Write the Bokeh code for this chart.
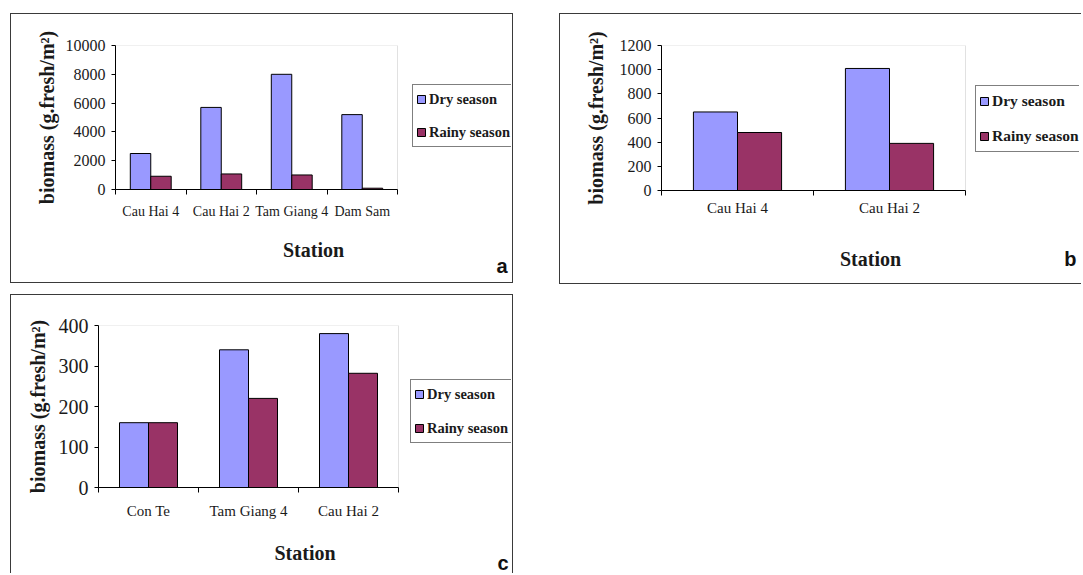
import numpy as np
from bokeh.plotting import figure
from bokeh.models import (FixedTicker, Legend, LegendItem, Title, BoxAnnotation,
                          ColumnDataSource, Range1d)
from bokeh.transform import dodge
from bokeh.layouts import column, row
from bokeh.embed import file_html
from bokeh.resources import INLINE

# ---------------- data ----------------
stations_a = ["Cau Hai 4", "Cau Hai 2", "Tam Giang 4", "Dam Sam"]
dry_a = [2500, 5700, 8000, 5200]
rainy_a = [920, 1080, 1010, 90]
yticks_a = [0, 2000, 4000, 6000, 8000, 10000]

stations_b = ["Cau Hai 4", "Cau Hai 2"]
dry_b = [650, 1010]
rainy_b = [480, 390]
yticks_b = [0, 200, 400, 600, 800, 1000, 1200]

stations_c = ["Con Te", "Tam Giang 4", "Cau Hai 2"]
dry_c = [160, 340, 380]
rainy_c = [160, 220, 282]
yticks_c = [0, 100, 200, 300, 400]

series_labels = ["Dry season", "Rainy season"]
DRY = "#9999FF"
RAINY = "#993366"
TXT = "#1a1a1a"
SERIF = "Liberation Serif"
SANS = "Liberation Sans"
YLABEL = "biomass (g.fresh/m\u00b2)"
EDGE = "1.5px solid #3a3a3a"


def make_panel(stations, dry, rainy, yticks, letter, W, H, left, top, fw, fh, cfg):
    n = len(stations)
    ymax = yticks[-1]
    right_min = 3
    total_fw = W - left - right_min          # frame also holds the legend area
    x_end = n * total_fw / fw
    p = figure(width=W, height=H, x_range=Range1d(0, x_end), y_range=Range1d(0, ymax),
               output_backend="svg", toolbar_location=None,
               min_border_left=left, min_border_top=top, min_border_right=right_min,
               min_border_bottom=H - top - fh, styles=cfg["border"])
    src = ColumnDataSource(dict(xc=np.arange(n) + 0.5, dry=dry, rainy=rainy))
    bw = 0.29
    r1 = p.vbar(x=dodge("xc", -bw / 2), top="dry", bottom=0, width=bw, source=src,
                fill_color=DRY, line_color="black", line_width=1)
    r2 = p.vbar(x=dodge("xc", bw / 2), top="rainy", bottom=0, width=bw, source=src,
                fill_color=RAINY, line_color="black", line_width=1)
    p.xgrid.visible = False
    p.ygrid.visible = False
    p.outline_line_color = None
    # plot-area border (grey), drawn beneath bars and axes
    p.add_layout(BoxAnnotation(left=0, right=n, bottom=0, top=ymax, fill_color=None,
                               line_color="#9a9a9a", line_width=1, level="underlay"))

    ya = p.yaxis[0]
    ya.ticker = FixedTicker(ticks=yticks)
    ya.major_tick_out = 4
    ya.major_tick_in = 0
    ya.minor_tick_out = 0
    ya.minor_tick_in = 0
    ya.axis_line_color = "black"
    ya.major_tick_line_color = "black"
    ya.major_label_text_font = SERIF
    ya.major_label_text_font_size = cfg["ytick"]
    ya.major_label_text_color = TXT
    ya.major_label_standoff = 6
    ya.axis_label = YLABEL
    ya.axis_label_text_font = SERIF
    ya.axis_label_text_font_style = "bold"
    ya.axis_label_text_font_size = "20px"
    ya.axis_label_text_color = TXT
    ya.axis_label_standoff = cfg["ylab_std"]

    xa = p.xaxis[0]
    xa.bounds = (0, n)
    xa.ticker = FixedTicker(ticks=list(np.arange(n) + 0.5), minor_ticks=list(range(n + 1)))
    xa.major_label_overrides = {float(i + 0.5): s for i, s in enumerate(stations)}
    xa.major_tick_out = 0
    xa.major_tick_in = 0
    xa.minor_tick_out = 5
    xa.minor_tick_in = 0
    xa.minor_tick_line_color = "black"
    xa.axis_line_color = "black"
    xa.major_label_text_font = SERIF
    xa.major_label_text_font_size = cfg["xtick"]
    xa.major_label_text_color = TXT
    xa.major_label_standoff = cfg["xtick_std"]
    xa.axis_label = "Station"
    xa.axis_label_text_font = SERIF
    xa.axis_label_text_font_style = "bold"
    xa.axis_label_text_font_size = "20px"
    xa.axis_label_text_color = TXT
    xa.axis_label_standoff = cfg["xlab_std"]

    legend = Legend(items=[LegendItem(label=series_labels[0], renderers=[r1]),
                           LegendItem(label=series_labels[1], renderers=[r2])],
                    location=cfg["leg_loc"],
                    label_text_font=SERIF, label_text_font_style="bold",
                    label_text_font_size=cfg["leg_font"], label_text_color=TXT,
                    glyph_width=10, glyph_height=10, label_height=cfg["leg_lh"],
                    spacing=cfg["leg_sp"], padding=3, label_standoff=3,
                    border_line_color="black", border_line_width=1,
                    background_fill_color="white", background_fill_alpha=1)
    p.add_layout(legend, "center")

    # panel letter: zero-height title placed next to the frame (before the axis),
    # its baseline pushed down by the (negative) standoff
    t = Title(text=letter, align="right", offset=cfg["let_off"], standoff=cfg["let_std"],
              vertical_align="bottom", text_font=SANS, text_font_style="bold",
              text_font_size="20px", text_color="#111111")
    p.below = [t] + list(p.below)
    return p


cfg_a = dict(border={"border": EDGE}, ytick="16px", xtick="14px",
             ylab_std=5, xtick_std=9, xlab_std=17, leg_loc=(297, 42),
             leg_font="14.5px", leg_lh=22, leg_sp=11, let_std=-175, let_off=4)
cfg_b = dict(border={"border-left": EDGE, "border-top": EDGE, "border-bottom": EDGE},
             ytick="16px", xtick="15px", ylab_std=10, xtick_std=4, xlab_std=29,
             leg_loc=(314, 38), leg_font="15.5px", leg_lh=24, leg_sp=11,
             let_std=-159, let_off=3)
cfg_c = dict(border={"border-left": EDGE, "border-top": EDGE, "border-right": EDGE},
             ytick="20px", xtick="15px", ylab_std=7, xtick_std=10, xlab_std=20,
             leg_loc=(312, 44), leg_font="14.5px", leg_lh=22, leg_sp=12,
             let_std=-173, let_off=3)

pa = make_panel(stations_a, dry_a, rainy_a, yticks_a, "a", 503, 270, 104, 31, 282, 144, cfg_a)
pb = make_panel(stations_b, dry_b, rainy_b, yticks_b, "b", 522, 271, 101, 30, 304, 146, cfg_b)
pc = make_panel(stations_c, dry_c, rainy_c, yticks_c, "c", 503, 279, 87, 30, 300, 162, cfg_c)

layout = column(row(pa, pb, spacing=46), pc, spacing=10, margin=(13, 0, 0, 10))
open("out.html", "w").write(file_html(layout, INLINE))
